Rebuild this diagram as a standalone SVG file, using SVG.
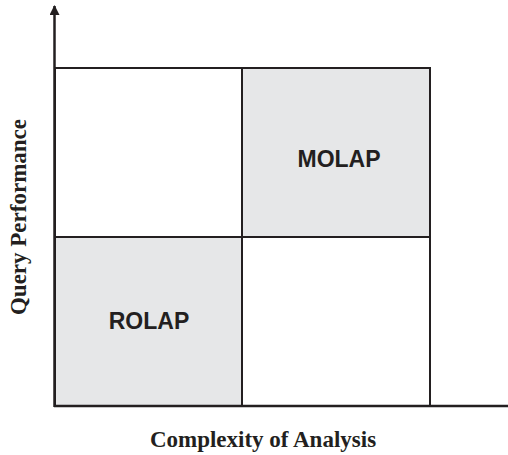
<svg xmlns="http://www.w3.org/2000/svg" width="508" height="455" viewBox="0 0 508 455">
<style>
.cell{stroke:#231f20;stroke-width:2}
.shaded{fill:#e6e7e8}
.plain{fill:#ffffff}
.lbl{font-family:"Liberation Sans",Arial,sans-serif;font-weight:bold;font-size:23px;fill:#231f20;text-anchor:middle}
.axis{font-family:"Liberation Serif","Times New Roman",serif;font-weight:bold;font-size:23px;fill:#231f20;text-anchor:middle}
</style>
<defs>
<marker id="arr" viewBox="0 0 10 10" refX="9" refY="5" markerWidth="10" markerHeight="10" markerUnits="userSpaceOnUse" orient="auto">
<path d="M0,0 L10,5 L0,10 Z" fill="#231f20"/>
</marker>
</defs>
<rect width="508" height="455" fill="#ffffff"/>
<g id="cell-top-left"><rect class="cell plain" x="55" y="68" width="187" height="169"/></g>
<g id="molap"><rect class="cell shaded" x="242" y="68" width="188" height="169"/><text class="lbl" x="339" y="167">MOLAP</text></g>
<g id="rolap"><rect class="cell shaded" x="55" y="237" width="187" height="169"/><text class="lbl" x="149" y="329">ROLAP</text></g>
<g id="cell-bottom-right"><rect class="cell plain" x="242" y="237" width="188" height="169"/></g>
<g id="connectors">
<line x1="54.5" y1="407" x2="54.5" y2="6" stroke="#231f20" stroke-width="2.5" marker-end="url(#arr)"/>
<line x1="54" y1="406" x2="508" y2="406" stroke="#231f20" stroke-width="2.5"/>
</g>
<text class="axis" x="263" y="447">Complexity of Analysis</text>
<text class="axis" transform="translate(26,217) rotate(-90)">Query Performance</text>
</svg>
